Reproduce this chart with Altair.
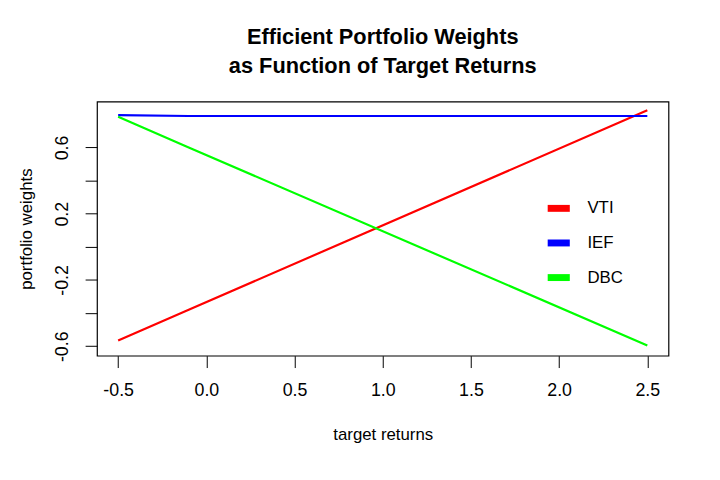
import altair as alt
import pandas as pd

target = [-0.5, -0.1, 2.5]
vti = [-0.565, -0.38, 0.825]
ief = [0.795, 0.79, 0.79]
dbc = [0.785, 0.60, -0.595]
assets = ["VTI", "IEF", "DBC"]

rows = []
for name, vals in zip(assets, [vti, ief, dbc]):
    for t, w in zip(target, vals):
        rows.append({"target": t, "weight": w, "asset": name})
df = pd.DataFrame(rows)

font = "Liberation Sans"

chart = alt.Chart(df).mark_line(strokeWidth=2.2, clip=True).encode(
    x=alt.X("target:Q", title="target returns",
            scale=alt.Scale(domain=[-0.62, 2.62], nice=False, zero=False),
            axis=alt.Axis(values=[-0.5, 0, 0.5, 1, 1.5, 2, 2.5],
                          labelExpr="replace(format(datum.value, '.1f'), '\u2212', '-')",
                          domain=False, grid=False, tickSize=12, tickColor="black",
                          labelFontSize=18, labelPadding=14, labelColor="black",
                          titleFontSize=17, titleFontWeight="normal", titlePadding=28,
                          titleColor="black", labelFont=font, titleFont=font)),
    y=alt.Y("weight:Q", title="portfolio weights",
            scale=alt.Scale(domain=[-0.657, 0.877], nice=False, zero=False),
            axis=alt.Axis(values=[-0.6, -0.4, -0.2, 0, 0.2, 0.4, 0.6],
                          labelExpr="abs(round(datum.value*10)) % 4 == 2 ? replace(format(datum.value, '.1f'), '\u2212', '-') : ''",
                          labelAngle=270, labelAlign="center", labelBaseline="bottom",
                          domain=False, grid=False, tickSize=12, tickColor="black",
                          labelFontSize=18, labelPadding=14, labelColor="black",
                          titleFontSize=17, titleFontWeight="normal", titlePadding=18,
                          titleColor="black", labelFont=font, titleFont=font)),
    color=alt.Color("asset:N", sort=assets,
                    scale=alt.Scale(domain=assets, range=["#ff0000", "#0000ff", "#00ff00"]),
                    legend=alt.Legend(title=None, orient="none", legendX=452, legendY=93,
                                      symbolType="stroke", symbolStrokeWidth=7,
                                      symbolSize=500, labelFontSize=17, labelFont=font,
                                      labelColor="black", rowPadding=6, labelOffset=14)),
    detail="asset:N",
).properties(
    width=578, height=257,
    title=alt.TitleParams(["Efficient Portfolio Weights", "   as Function of Target Returns"],
                          fontSize=22, font=font, fontWeight="bold", color="black",
                          anchor="middle", offset=24, lineHeight=29),
    autosize=alt.AutoSizeParams(type="none"),
    padding={"left": 90, "top": 92, "right": 44, "bottom": 115},
).configure(background="white").configure_view(stroke="black", strokeWidth=1.2)

chart.save("out.html", embed_options={"renderer": "svg", "actions": False})
